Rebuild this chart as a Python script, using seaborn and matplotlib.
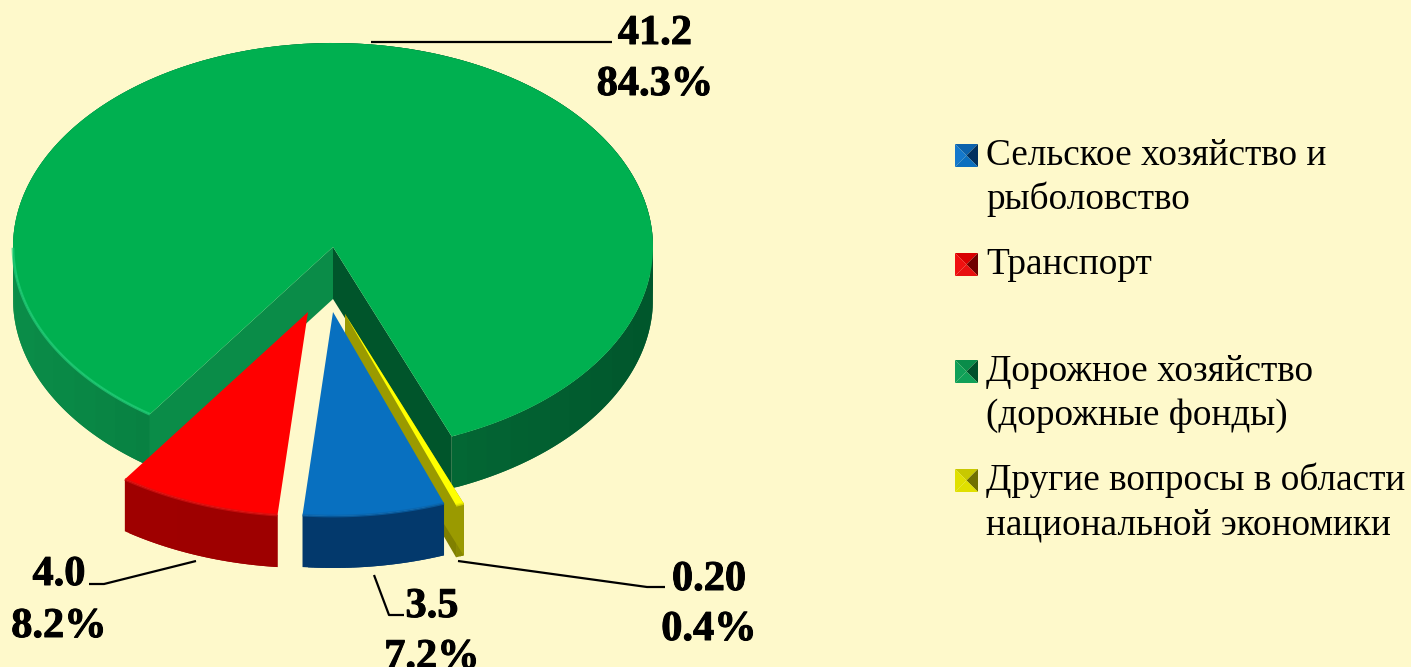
import numpy as np
import matplotlib
matplotlib.use('Agg')
import matplotlib.pyplot as plt
import matplotlib.patheffects as pe
from matplotlib.patches import Polygon
import seaborn as sns

# Slices in clockwise order, starting from the blue one
categories = ['Сельское хозяйство и\nрыболовство', 'Транспорт', 'Дорожное хозяйство\n(дорожные фонды)',
              'Другие вопросы в области\nнациональной экономики']
values = [3.5, 4.0, 41.2, 0.20]
value_labels = ['3.5', '4.0', '41.2', '0.20']
share_labels = ['7.2%', '8.2%', '84.3%', '0.4%']

BG = '#FEF9CB'
top_colors = ['#0870C0', '#FF0000', '#00B050', '#FFFF00']
wall_light = ['#03396C', '#A00000', '#0A8C48', '#9A9A00']
wall_dark = ['#03396C', '#9A0000', '#00552B', '#808000']
rim_colors = ['#0A64AC', '#D81010', '#22D07A', '#E8E800']

W, H = 1411, 667
SQUASH = 0.6375          # vertical squeeze of the tilted pie
CX, CY = 333, -247 / SQUASH
R = 320
DEPTH = 52 / SQUASH

# manual pull-out of each slice, drawn in pie units
offsets = [(0, -65 / SQUASH), (-25, -65 / SQUASH), (0, 0), (12, -67 / SQUASH)]
draw_order = [2, 3, 0, 1]
GREEN = 2
YELLOW = 3

sns.set_theme(style='white')
plt.rcParams['font.family'] = ['Liberation Serif', 'DejaVu Serif']

fig = plt.figure(figsize=(W / 100, H / 100), dpi=100, facecolor=BG)
ax = fig.add_axes([0, 0, 1, 1])

wedges, _ = ax.pie(values, startangle=-69.7, counterclock=False, radius=R, center=(CX, CY))


def arc_points(t1, t2, cx, cy):
    ts = np.radians(np.linspace(t1, t2, int(abs(t2 - t1)) + 2))
    return cx + R * np.cos(ts), cy + R * np.sin(ts)


for rank, i in enumerate(draw_order):
    w = wedges[i]
    cx = CX + offsets[i][0]
    cy = CY + offsets[i][1]
    z = 2 + rank * 2
    w.set_center((cx, cy))
    w.set_facecolor(top_colors[i])
    w.set_edgecolor('none')
    w.set_zorder(z + 1)

    # outer wall, overlapping quads so no seams show, lit from the left
    xs, ys = arc_points(w.theta1, w.theta2, cx, cy)
    n = len(xs) - 1
    shades = sns.blend_palette([wall_light[i], wall_dark[i]], 32)
    for k in range(n):
        sx = (xs[k] + xs[k + 1]) / 2
        shade = shades[int(np.clip((sx - (CX - R)) / (2 * R) * 31, 0, 31))]
        e = min(k + 2, n)
        quad = [(xs[k], ys[k]), (xs[e], ys[e]), (xs[e], ys[e] - DEPTH), (xs[k], ys[k] - DEPTH)]
        ax.add_patch(Polygon(quad, closed=True, fc=shade, ec='none', zorder=z))

    # cut faces at the straight edges, only these two slices show them
    if i in (GREEN, YELLOW):
        for t, col in [(w.theta1, wall_dark[i]), (w.theta2, wall_light[i])]:
            ex = cx + R * np.cos(np.radians(t))
            ey = cy + R * np.sin(np.radians(t))
            face = [(cx, cy), (ex, ey), (ex, ey - DEPTH), (cx, cy - DEPTH)]
            ax.add_patch(Polygon(face, closed=True, fc=col, ec='none', zorder=z + 0.5))

    # soft bevel along the near rim
    if i == GREEN:
        keep = (xs < cx) & (ys < cy)
    else:
        keep = ys < cy
    ax.plot(xs[keep], ys[keep], color=rim_colors[i], lw=2, alpha=0.7, solid_capstyle='butt', zorder=z + 1.5)

ax.set_xlim(0, W)
ax.set_ylim(-H / SQUASH, 0)
ax.set_aspect('auto')
ax.set_axis_off()

# overlay in pixel units for the labels, leaders and legend
ov = fig.add_axes([0, 0, 1, 1], facecolor='none')
ov.set_xlim(0, W)
ov.set_ylim(H, 0)
ov.set_axis_off()

leaders = [
    [(374, 575), (389, 615), (404, 615)],
    [(196, 561), (104, 584), (89, 584)],
    [(371, 42), (612, 42)],
    [(458, 561), (647, 587), (665, 587)],
]
label_pos = [(432, 617, 668), (59, 585, 637), (655, 44, 95), (709, 590, 640)]
heavy = [pe.withStroke(linewidth=0.7, foreground='black')]

for i in range(len(values)):
    px, py = zip(*leaders[i])
    ov.plot(px, py, color='black', lw=1.6, solid_capstyle='butt')
    x, y1, y2 = label_pos[i]
    ov.text(x, y1, value_labels[i], ha='center', va='baseline', fontsize=30.5, fontweight='bold', color='black',
            path_effects=heavy)
    ov.text(x, y2, share_labels[i], ha='center', va='baseline', fontsize=30.5, fontweight='bold', color='black',
            path_effects=heavy)

# legend: bevelled keys and text, the gap after Транспорт is a blank line in the original
key_tone = [('#0C62AC', '#1478CC', '#02305E', '#0B6FBF'),
            ('#D80000', '#F01010', '#700000', '#E81010'),
            ('#0A8C4A', '#10A058', '#00502A', '#10A058'),
            ('#C8C800', '#E0E000', '#707000', '#E0E000')]
legend_y = [165, 274, 381, 490]
LINE = 44
KEY = 23
for i, label in enumerate(categories):
    for j, line in enumerate(label.split('\n')):
        ov.text(986, legend_y[i] + j * LINE, line, fontsize=26.8, color='black', va='baseline', ha='left')
    x0, y0 = 955, legend_y[i] - 21
    x1, y1 = x0 + KEY, y0 + KEY
    xm, ym = x0 + KEY / 2, y0 + KEY / 2
    top, left, right, bottom = key_tone[i]
    ov.add_patch(Polygon([(x0, y0), (x1, y0), (xm, ym)], fc=top, ec='none'))
    ov.add_patch(Polygon([(x0, y0), (x0, y1), (xm, ym)], fc=left, ec='none'))
    ov.add_patch(Polygon([(x1, y0), (x1, y1), (xm, ym)], fc=right, ec='none'))
    ov.add_patch(Polygon([(x0, y1), (x1, y1), (xm, ym)], fc=bottom, ec='none'))

fig.savefig('out.png', dpi=100, facecolor=BG)
